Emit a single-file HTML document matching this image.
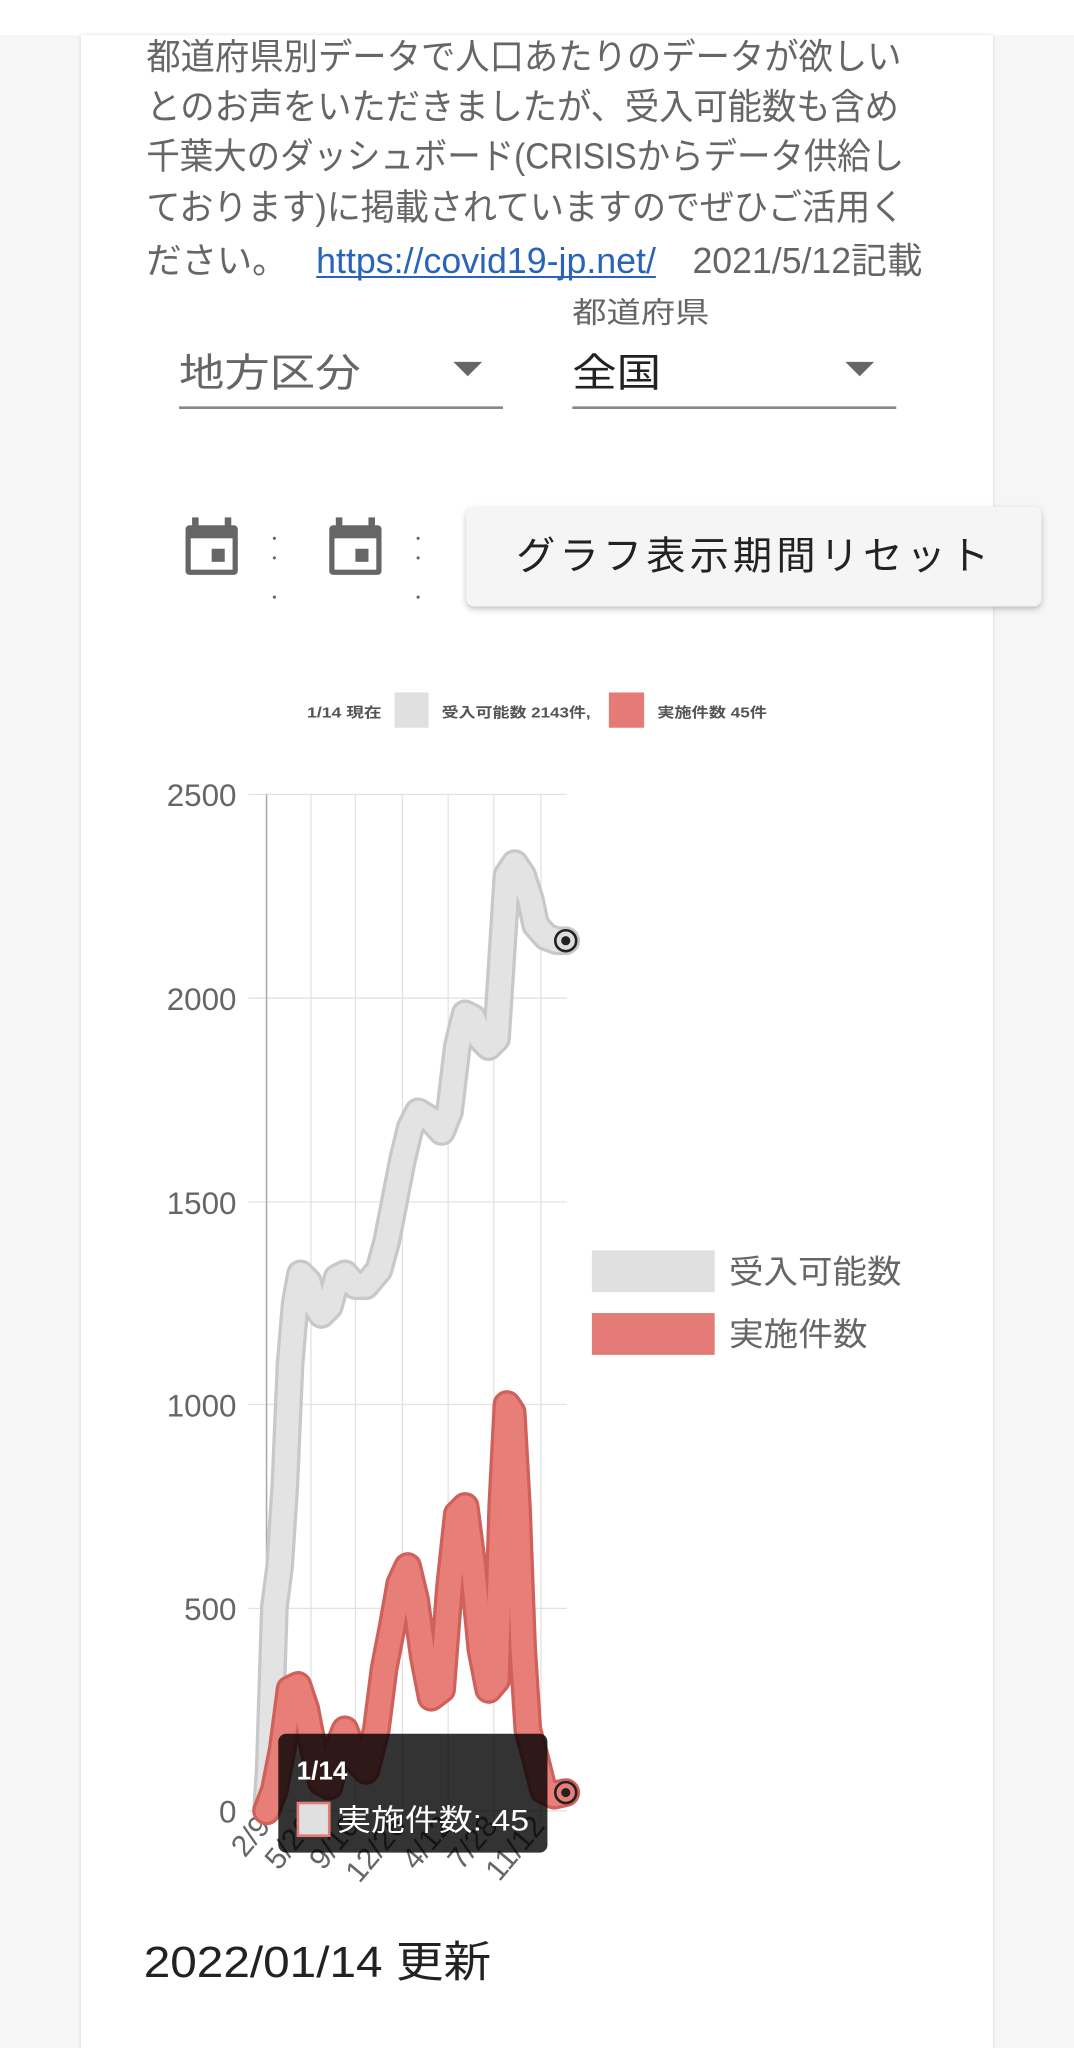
<!DOCTYPE html>
<html><head><meta charset="utf-8"><style>
html,body{margin:0;padding:0;background:#f6f6f6;}
svg{display:block;}
text{font-family:"Liberation Sans","Noto Sans CJK JP",sans-serif;}
</style></head><body>
<svg width="1074" height="2048" viewBox="0 0 822 1567.5" xmlns="http://www.w3.org/2000/svg">
<defs>
<filter id="sh" x="-10%" y="-20%" width="120%" height="150%"><feDropShadow dx="0" dy="2" stdDeviation="2.5" flood-color="#000" flood-opacity="0.25"/></filter>
<filter id="cs" x="-5%" y="-5%" width="110%" height="110%"><feDropShadow dx="0" dy="0" stdDeviation="1.5" flood-color="#000" flood-opacity="0.15"/></filter>
</defs>
<rect x="0" y="0" width="822" height="1567.5" fill="#f6f6f6"/>
<rect x="0" y="0" width="822" height="27" fill="#ffffff"/>
<rect x="62" y="27" width="698" height="1560" fill="#ffffff" filter="url(#cs)"/>

<g fill="#666" font-size="27.5">
<text x="112" y="53" textLength="578" lengthAdjust="spacingAndGlyphs">都道府県別データで人口あたりのデータが欲しい</text>
<text x="112" y="91" textLength="576" lengthAdjust="spacingAndGlyphs">とのお声をいただきましたが、受入可能数も含め</text>
<text x="112" y="129" textLength="580" lengthAdjust="spacingAndGlyphs">千葉大のダッシュボード(CRISISからデータ供給し</text>
<text x="112" y="168" textLength="580" lengthAdjust="spacingAndGlyphs">ております)に掲載されていますのでぜひご活用く</text>
<text x="112" y="209" textLength="108" lengthAdjust="spacingAndGlyphs">ださい。</text>
<text x="242" y="209" fill="#2a64b8" textLength="260" lengthAdjust="spacingAndGlyphs">https://covid19-jp.net/</text>
<text x="530" y="209" textLength="176" lengthAdjust="spacingAndGlyphs">2021/5/12記載</text>
</g>
<line x1="242" y1="212" x2="502" y2="212" stroke="#2a64b8" stroke-width="1.5"/>

<text x="438" y="247" font-size="22" fill="#666" textLength="105" lengthAdjust="spacingAndGlyphs">都道府県</text>
<text x="137" y="296" font-size="30" fill="#666" textLength="139" lengthAdjust="spacingAndGlyphs">地方区分</text>
<text x="438" y="296" font-size="30" fill="#222" textLength="68" lengthAdjust="spacingAndGlyphs">全国</text>
<line x1="137" y1="312" x2="385" y2="312" stroke="#888" stroke-width="2"/>
<line x1="438" y1="312" x2="686" y2="312" stroke="#888" stroke-width="2"/>
<polygon points="347,277 369,277 358,288" fill="#666"/>
<polygon points="647,277 669,277 658,288" fill="#666"/>

<g fill="#666">
<rect x="142" y="402" width="40" height="38" rx="3"/>
<rect x="146" y="412" width="32" height="24" fill="#fff"/>
<rect x="162" y="420" width="10" height="10"/>
<rect x="147" y="396" width="5" height="8"/><rect x="172" y="396" width="5" height="8"/>
<rect x="252" y="402" width="40" height="38" rx="3"/>
<rect x="256" y="412" width="32" height="24" fill="#fff"/>
<rect x="272" y="420" width="10" height="10"/>
<rect x="257" y="396" width="5" height="8"/><rect x="282" y="396" width="5" height="8"/>
<circle cx="210" cy="412" r="1.2"/><circle cx="210" cy="427" r="1.2"/><circle cx="210" cy="457" r="1.2"/>
<circle cx="320" cy="412" r="1.2"/><circle cx="320" cy="427" r="1.2"/><circle cx="320" cy="457" r="1.2"/>
</g>

<rect x="357" y="388" width="440" height="76" rx="6" fill="#f5f5f5" filter="url(#sh)"/>
<text x="395" y="436" font-size="30" fill="#222" textLength="362" lengthAdjust="spacing">グラフ表示期間リセット</text>

<g font-size="11" font-weight="bold" fill="#555">
<text x="235" y="549" textLength="57" lengthAdjust="spacingAndGlyphs">1/14 現在</text>
<rect x="302" y="530" width="26" height="27" fill="#e0e0e0"/>
<text x="338" y="549" textLength="114" lengthAdjust="spacingAndGlyphs">受入可能数 2143件,</text>
<rect x="466" y="530" width="27" height="27" fill="#e57b76"/>
<text x="503" y="549" textLength="84" lengthAdjust="spacingAndGlyphs">実施件数 45件</text>
</g>

<g stroke="#e2e2e2" stroke-width="1">
<line x1="190" y1="608" x2="434" y2="608"/><line x1="190" y1="764" x2="434" y2="764"/>
<line x1="190" y1="920" x2="434" y2="920"/><line x1="190" y1="1075" x2="434" y2="1075"/>
<line x1="190" y1="1231" x2="434" y2="1231"/><line x1="190" y1="1386" x2="434" y2="1386"/>
<line x1="238" y1="608" x2="238" y2="1394"/><line x1="272" y1="608" x2="272" y2="1394"/>
<line x1="308" y1="608" x2="308" y2="1394"/><line x1="343" y1="608" x2="343" y2="1394"/>
<line x1="378" y1="608" x2="378" y2="1394"/><line x1="414" y1="608" x2="414" y2="1394"/>
</g>
<line x1="204" y1="608" x2="204" y2="1394" stroke="#aaa" stroke-width="1.2"/>
<g font-size="24" fill="#666" text-anchor="end">
<text x="181" y="617">2500</text><text x="181" y="773">2000</text><text x="181" y="929">1500</text>
<text x="181" y="1084">1000</text><text x="181" y="1240">500</text><text x="181" y="1395">0</text>
</g>
<g font-size="23" fill="#666" text-anchor="end">
<text transform="translate(208,1398) rotate(-50)">2/9</text>
<text transform="translate(242,1398) rotate(-50)">5/26</text>
<text transform="translate(276,1398) rotate(-50)">9/10</text>
<text transform="translate(312,1398) rotate(-50)">12/26</text>
<text transform="translate(347,1398) rotate(-50)">4/12</text>
<text transform="translate(382,1398) rotate(-50)">7/28</text>
<text transform="translate(418,1398) rotate(-50)">11/12</text>
</g>

<g fill="none" stroke-linejoin="round" stroke-linecap="round">
<polyline stroke="#c8c8c8" stroke-width="22" points="204,1386 206,1355 208,1293 210,1230 214,1199 218,1137 222,1044 226,997 230,975 236,981 240,997 246,1006 252,1000 258,978 264,975 272,984 280,984 290,972 296,950 302,919 308,888 314,863 320,851 330,857 338,866 344,851 350,801 356,776 362,779 368,795 374,801 380,795 384,733 388,670 394,661 400,670 406,689 410,708 418,717 426,720 433,720"/>
<polyline stroke="#e3e3e3" stroke-width="17" points="204,1386 206,1355 208,1293 210,1230 214,1199 218,1137 222,1044 226,997 230,975 236,981 240,997 246,1006 252,1000 258,978 264,975 272,984 280,984 290,972 296,950 302,919 308,888 314,863 320,851 330,857 338,866 344,851 350,801 356,776 362,779 368,795 374,801 380,795 384,733 388,670 394,661 400,670 406,689 410,708 418,717 426,720 433,720"/>
<polyline stroke="#cf605b" stroke-width="22" points="204,1386 210,1370 216,1339 222,1293 228,1290 234,1308 240,1339 246,1364 252,1367 258,1339 264,1324 272,1346 280,1355 288,1324 294,1277 300,1246 306,1212 312,1199 318,1224 324,1268 330,1299 338,1293 344,1215 350,1159 356,1153 362,1199 368,1262 374,1293 380,1286 384,1153 388,1075 392,1081 396,1153 400,1262 404,1324 410,1346 416,1370 424,1374 433,1372"/>
<polyline stroke="#e87e78" stroke-width="17" points="204,1386 210,1370 216,1339 222,1293 228,1290 234,1308 240,1339 246,1364 252,1367 258,1339 264,1324 272,1346 280,1355 288,1324 294,1277 300,1246 306,1212 312,1199 318,1224 324,1268 330,1299 338,1293 344,1215 350,1159 356,1153 362,1199 368,1262 374,1293 380,1286 384,1153 388,1075 392,1081 396,1153 400,1262 404,1324 410,1346 416,1370 424,1374 433,1372"/>
</g>
<circle cx="433" cy="720" r="8" fill="#ddd" stroke="#222" stroke-width="2"/><circle cx="433" cy="720" r="3.5" fill="#222"/>
<circle cx="433" cy="1372" r="8" fill="#e87e78" stroke="#222" stroke-width="2"/><circle cx="433" cy="1372" r="3.5" fill="#222"/>

<rect x="453" y="957" width="94" height="32" fill="#e0e0e0"/>
<text x="558" y="982" font-size="25" fill="#666" textLength="132" lengthAdjust="spacingAndGlyphs">受入可能数</text>
<rect x="453" y="1005" width="94" height="32" fill="#e57b76"/>
<text x="558" y="1030" font-size="25" fill="#666" textLength="106" lengthAdjust="spacingAndGlyphs">実施件数</text>

<rect x="213" y="1327" width="206" height="91" rx="6" fill="rgba(0,0,0,0.8)"/>
<text x="227" y="1362" font-size="20" font-weight="bold" fill="#fff">1/14</text>
<rect x="228" y="1380" width="24" height="25" fill="#e0e0e0" stroke="#e57b76" stroke-width="2"/>
<text x="258" y="1401" font-size="23" fill="#fff" textLength="147" lengthAdjust="spacingAndGlyphs">実施件数: 45</text>

<text x="110" y="1513" font-size="33" fill="#222" textLength="266" lengthAdjust="spacingAndGlyphs">2022/01/14 更新</text>
</svg>
</body></html>
